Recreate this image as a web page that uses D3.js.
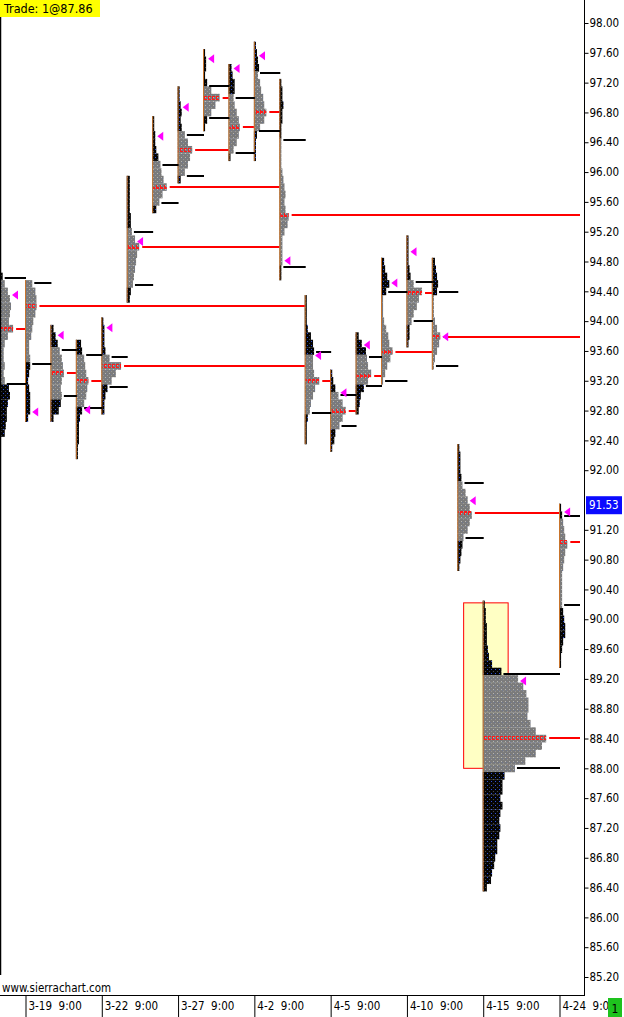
<!DOCTYPE html>
<html><head><meta charset="utf-8">
<script src="https://cdn.jsdelivr.net/npm/d3@7"></script>
<style>
body{margin:0;background:#fff}
svg{display:block}
text{font-family:'DejaVu Sans Condensed','DejaVu Sans',sans-serif;font-stretch:condensed}
</style>
</head><body>
<svg id="c" width="624" height="1017"></svg>
<script>
// ---------- data ----------
const sessions = ["3-18","3-19","3-20","3-21","3-22","3-25","3-26","3-27","3-28","4-1","4-2",
                  "4-3","4-4","4-5","4-8","4-9","4-10","4-11","4-12","4-15","4-24"];
const slots = [0,1,2,3,4,5,6,7,8,9,10,11,12,13,14,15,16,17,18,19,22];
const highs = [94.6,94.5,93.9,93.7,94.0,95.9,96.7,97.1,97.6,97.4,97.7,
               97.2,94.3,93.3,93.8,94.8,95.1,94.8,92.3,90.2,91.5];
// TPO counts per 0.10 price row, from the session high downward
const tpoCounts = [
  [3,5,8,10,11,10,9,13,8,5,4,4,5,4,5,9,10,8,7,7,6,5],
  [7,10,11,11,10,8,7,6,4,4,5,5,4,3,4,5,5,5,3],
  [3,5,7,9,11,12,13,11,10,11,10,8,3],
  [5,6,8,9,10,12,11,10,8,6,4,3,3,3,2,2],
  [2,3,3,3,4,8,19,14,10,6,4,3,3],
  [3,3,3,3,3,4,4,5,8,12,10,9,8,7,6,4,3],
  [2,2,3,3,4,6,8,9,11,14,10,7,4],
  [2,2,3,4,3,4,7,10,14,12,10,7,3],
  [2,3,3,2,4,8,16,12,8,4,2],
  [3,4,6,6,5,6,8,10,11,10,8,5,2],
  [2,3,4,5,4,6,7,9,10,12,10,6,3,2,2,2],
  [2,3,3,4,3,3,2,2,2,2,2,2,3,4,5,6,5,6,9,8,5,3,3,3,3,2,2],
  [2,2,2,2,3,6,8,9,8,8,9,14,10,8,6,5,3,2,2,2],
  [2,3,5,8,12,15,12,9,5,4,2],
  [3,6,10,11,12,15,12,8,5,4,3],
  [3,4,6,8,5,2,2,2,3,5,7,8,11,9,6,4,2],
  [2,2,2,2,3,4,7,15,12,10,7,5,3,3,2],
  [3,4,5,6,5,2,2,2,3,5,8,7,5,3,2],
  [2,3,3,3,4,5,8,10,12,14,12,10,6,5,4,3,2],
  [2,3,3,4,4,4,5,6,9,18,34,39,42,44,44,43,46,51,61,57,51,41,31,
   21,19,19,17,19,17,16,17,16,14,14,12,11,9,8,4],
  [2,3,4,5,6,8,6,5,4,3,3,3,3,3,4,5,6,6,4,3,2,2]
];
const pocs  = [93.9,94.2,93.3,93.2,93.4,95.0,95.8,96.3,97.0,96.6,96.8,
               95.43,93.2,92.8,93.27,93.58,94.38,93.79,91.43,88.4,91.04];
const vahs  = [94.58,94.51,93.61,93.55,93.52,95.2,96.1,96.5,97.15,97.0,97.33,
               96.43,93.59,93.01,93.52,94.39,94.52,94.39,91.83,89.27,91.38];
const vals  = [93.16,93.42,93.0,92.83,93.12,94.48,95.58,95.95,96.72,96.26,96.55,
               94.73,92.77,92.59,93.13,93.2,94.0,93.4,91.09,88.0,90.19];
const opens = [94.35,92.78,93.81,92.81,93.91,95.07,96.48,96.87,97.52,97.39,97.56,
               94.81,93.54,93.04,93.68,94.51,94.93,93.79,91.59,89.17,91.44];
// index of the session whose profile revisits the POC (null = still naked)
const pocUntil = [1,12,3,4,12,11,11,9,9,10,11,null,13,14,15,17,17,null,20,null,null];

const priceTicks = [85.2,85.6,86.0,86.4,86.8,87.2,87.6,88.0,88.4,88.8,89.2,89.6,90.0,90.4,
                    90.8,91.2,91.6,92.0,92.4,92.8,93.2,93.6,94.0,94.4,94.8,95.2,95.6,96.0,
                    96.4,96.8,97.2,97.6,98.0];
const dateLabels = ["3-19  9:00","3-22  9:00","3-27  9:00","4-2  9:00","4-5  9:00",
                    "4-10  9:00","4-15  9:00","4-24  9:00"];
const dateSlots = [1,4,7,10,13,16,19,22];
const lastPrice = 91.53;
const tradeText = "Trade: 1@87.86";
const boxPrices = [88.0, 90.22];
const boxSlots = [18.25, 20];
const rowStep = 0.1;

// ---------- layout ----------
const W = 624, H = 1017, plotR = 584, axisY = 995;
const svg = d3.select("#c");
const y = d3.scaleLinear().domain([85.2, 98]).range([977, 23]);
const x = d3.scaleLinear().domain([1, 22]).range([25, 559]);
const tw = d3.scaleLinear().domain([0, 1]).range([0, 1.04]);

// patterns to imitate TPO letters
const defs = svg.append("defs");
const gp = defs.append("pattern").attr("id","gpat").attr("patternUnits","userSpaceOnUse")
  .attr("width",4).attr("height",4);
gp.append("rect").attr("width",4).attr("height",4).attr("fill","#7b7b7b");
gp.append("rect").attr("x",1).attr("y",1).attr("width",1).attr("height",1).attr("fill","#b4b4b4");
gp.append("rect").attr("x",3).attr("y",3).attr("width",1).attr("height",1).attr("fill","#959595");
gp.append("rect").attr("x",2).attr("y",2).attr("width",1).attr("height",1).attr("fill","#6d7791");
const bp = defs.append("pattern").attr("id","bpat").attr("patternUnits","userSpaceOnUse")
  .attr("width",4).attr("height",4);
bp.append("rect").attr("width",4).attr("height",4).attr("fill","#050505");
bp.append("rect").attr("x",3).attr("y",1).attr("width",1).attr("height",1).attr("fill","#2d4fd8");
bp.append("rect").attr("x",1).attr("y",3).attr("width",1).attr("height",1).attr("fill","#4a4a4a");
const rp = defs.append("pattern").attr("id","rpat").attr("patternUnits","userSpaceOnUse")
  .attr("width",4).attr("height",4);
rp.append("rect").attr("width",3).attr("height",1).attr("fill","#ff1a1a");
rp.append("rect").attr("y",3).attr("width",3).attr("height",1).attr("fill","#ff1a1a");
rp.append("rect").attr("x",0).attr("width",1).attr("height",4).attr("fill","#ff1a1a");

const gPlot = svg.append("g");

// yellow highlight box behind the composite profile
gPlot.append("rect")
  .attr("x", x(boxSlots[0])).attr("y", y(boxPrices[1]))
  .attr("width", x(boxSlots[1]) - x(boxSlots[0]))
  .attr("height", y(boxPrices[0]) - y(boxPrices[1]))
  .attr("fill","#ffffc4").attr("stroke","#ff0000").attr("stroke-width",1);

function rowIndex(i, price){
  const j = Math.round((highs[i] - price) / rowStep);
  return Math.max(0, Math.min(tpoCounts[i].length - 1, j));
}
function rowW(i, price){ return tw(tpoCounts[i][rowIndex(i, price)]); }

const profiles = sessions.map((s, i) => ({i, s, x0: x(slots[i])}));

profiles.forEach(pr => {
  const i = pr.i;
  const rows = tpoCounts[i].map((c, j) => ({c, p: +(highs[i] - j*rowStep).toFixed(2)}));
  const g = gPlot.append("g");
  g.selectAll("rect").data(rows).join("rect")
    .attr("x", pr.x0)
    .attr("y", d => y(d.p + rowStep/2))
    .attr("width", d => tw(d.c))
    .attr("height", d => y(d.p - rowStep/2) - y(d.p + rowStep/2) + 0.2)
    .attr("fill", d => (d.p <= vahs[i] + 0.001 && d.p >= vals[i] - 0.001) ? "url(#gpat)" : "url(#bpat)");
  g.append("line")
    .attr("x1", pr.x0 + 0.5).attr("x2", pr.x0 + 0.5)
    .attr("y1", y(highs[i] + rowStep/2))
    .attr("y2", y(rows[rows.length-1].p - rowStep/2))
    .attr("stroke","#c8742c").attr("stroke-width",1);
  g.append("rect")
    .attr("x", pr.x0 + 1).attr("y", Math.round(y(pocs[i])) - 2)
    .attr("width", Math.max(1, rowW(i, pocs[i]) - 1)).attr("height", 4)
    .attr("fill","url(#rpat)");
});

// value-area lines
profiles.forEach(pr => {
  const i = pr.i;
  const end = i < sessions.length - 1 ? x(slots[i+1]) + 1 : 580;
  [vahs[i], vals[i]].forEach(v => {
    gPlot.append("line")
      .attr("x1", pr.x0 + rowW(i, v) + 2).attr("x2", end)
      .attr("y1", Math.round(y(v))).attr("y2", Math.round(y(v)))
      .attr("stroke","#000").attr("stroke-width",2);
  });
});

// POC extension lines
profiles.forEach(pr => {
  const i = pr.i;
  const end = pocUntil[i] === null ? 580 : x(slots[pocUntil[i]]);
  gPlot.append("line")
    .attr("x1", pr.x0 + rowW(i, pocs[i]) + 3).attr("x2", end)
    .attr("y1", Math.round(y(pocs[i]))).attr("y2", Math.round(y(pocs[i])))
    .attr("stroke","#ff0000").attr("stroke-width",2);
});

// opening-price markers
profiles.forEach(pr => {
  const i = pr.i;
  const ax = pr.x0 + rowW(i, opens[i]) + 2, ay = y(opens[i]);
  gPlot.append("path")
    .attr("d", `M${ax},${ay}L${ax+6},${ay-4.5}L${ax+6},${ay+4.5}Z`)
    .attr("fill","#ff00ff");
});

// frame lines
svg.append("line").attr("x1",0.5).attr("x2",0.5).attr("y1",0).attr("y2",975)
  .attr("stroke","#000").attr("stroke-width",1.5);
svg.append("line").attr("x1",plotR+0.5).attr("x2",plotR+0.5).attr("y1",0).attr("y2",axisY)
  .attr("stroke","#000").attr("stroke-width",1);
svg.append("line").attr("x1",0).attr("x2",plotR+1).attr("y1",axisY+0.5).attr("y2",axisY+0.5)
  .attr("stroke","#000").attr("stroke-width",1);

// price axis (the tick hidden behind the last-price label is not drawn)
const shownTicks = priceTicks.filter(t => Math.abs(y(t) - y(lastPrice)) > 10);
const yAxis = svg.append("g").attr("transform",`translate(${plotR+0.5},0)`)
  .call(d3.axisRight(y).tickValues(shownTicks).tickFormat(d3.format(".2f")).tickSize(4).tickPadding(1));
yAxis.select(".domain").remove();
yAxis.selectAll("text").attr("font-size",11.5).attr("fill","#000")
  .style("font-family","'DejaVu Sans Condensed','DejaVu Sans',sans-serif");
yAxis.selectAll("line").attr("stroke","#000");

// last price label
svg.append("rect").attr("x",586).attr("y",y(lastPrice)-9).attr("width",36).attr("height",18)
  .attr("fill","#0a0aff");
svg.append("text").attr("x",589).attr("y",y(lastPrice)).attr("dy","0.35em")
  .attr("font-size",11.5).attr("fill","#fff").text(d3.format(".2f")(lastPrice));

// date axis, clipped where the green badge sits
defs.append("clipPath").attr("id","xclip").append("rect")
  .attr("x",0).attr("y",-5).attr("width",608).attr("height",40);
const xAxis = svg.append("g").attr("transform",`translate(0,${axisY})`)
  .attr("clip-path","url(#xclip)")
  .call(d3.axisBottom(x).tickValues(dateSlots).tickFormat((d,k) => dateLabels[k]).tickSize(22));
xAxis.select(".domain").remove();
xAxis.selectAll("line").attr("stroke","#000").attr("transform","translate(0.5,0)");
xAxis.selectAll("text").attr("text-anchor","start").attr("x",3).attr("y",7).attr("dy","0.71em")
  .attr("font-size",11.5).attr("fill","#000").style("white-space","pre")
  .style("font-family","'DejaVu Sans Condensed','DejaVu Sans',sans-serif");

// green badge
svg.append("rect").attr("x",608).attr("y",998).attr("width",14).attr("height",19).attr("fill","#1ec21e");
svg.append("text").attr("x",615).attr("y",1008).attr("dy","0.38em").attr("text-anchor","middle")
  .attr("font-size",12).attr("fill","#000").text("1");

// trade label
svg.append("rect").attr("x",0).attr("y",0).attr("width",100).attr("height",17).attr("fill","#ffff00");
svg.append("text").attr("x",4).attr("y",9).attr("dy","0.35em").attr("font-size",12.5)
  .attr("fill","#000").text(tradeText);

// watermark
svg.append("text").attr("x",2).attr("y",988).attr("dy","0.35em").attr("font-size",11.5)
  .attr("fill","#000").text("www.sierrachart.com");
</script>
</body></html>
